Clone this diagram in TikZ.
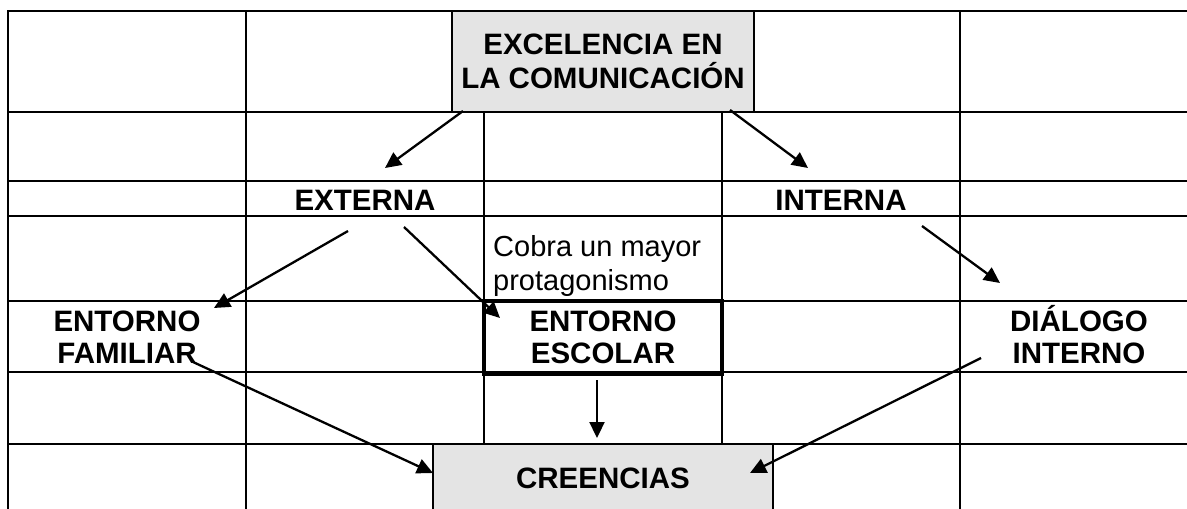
\documentclass[tikz,border=0pt]{standalone}
\usepackage{fontspec}
\setmainfont{Liberation Sans}
\usetikzlibrary{arrows.meta}
\definecolor{boxgray}{RGB}{228,228,228}
\begin{document}
\begin{tikzpicture}[x=1pt,y=-1pt,
  grid/.style={line width=2.8pt, line cap=rect},
  thickbox/.style={line width=3.8pt},
  lbl/.style={font=\fontsize{29.5}{32}\selectfont\bfseries, inner sep=0pt, align=center},
  note/.style={font=\fontsize{29}{34}\selectfont, inner sep=0pt, align=left},
  conn/.style={line width=2.3pt, -{Triangle[length=16pt,width=15pt]}}
]
\useasboundingbox (0,0) rectangle (1187,509);
% shaded cells
\fill[boxgray] (452,11) rectangle (754,112);
\fill[boxgray] (433,444) rectangle (773,509);
% horizontal rules
\foreach \yy in {11,112,181,216,301,372,444}
  \draw[grid] (8,\yy) -- (1190,\yy);
% vertical rules
\draw[grid] (8,11) -- (8,512);
\draw[grid] (246,11) -- (246,512);
\draw[grid] (960,11) -- (960,512);
\draw[grid] (452,11) -- (452,112);
\draw[grid] (754,11) -- (754,112);
\draw[grid] (484,112) -- (484,444);
\draw[grid] (722,112) -- (722,444);
\draw[grid] (433,444) -- (433,512);
\draw[grid] (773,444) -- (773,512);
% framed cell
\draw[thickbox] (484,301) rectangle (722,374);
% texts
\node[lbl, font=\fontsize{29.5}{34}\selectfont\bfseries] (exc) at (603,61.5) {EXCELENCIA EN\\LA COMUNICACIÓN};
\node[lbl, anchor=base] (ext) at (365,210) {EXTERNA};
\node[lbl, anchor=base] (int) at (841,210) {INTERNA};
\node[note, anchor=west] (cobra) at (493,265.5) {Cobra un mayor\\protagonismo};
\node[lbl] (fam) at (127,337.5) {ENTORNO\\FAMILIAR};
\node[lbl] (esc) at (603,337.5) {ENTORNO\\ESCOLAR};
\node[lbl] (dia) at (1079,334.5) {DIÁLOGO\\INTERNO};
\node[lbl, anchor=base] (cre) at (603,488) {CREENCIAS};
% connector ends
\coordinate (a1s) at (463,111); \coordinate (a1e) at (385,168);
\coordinate (a2s) at (730,110); \coordinate (a2e) at (808,168);
\coordinate (a3s) at (348,231); \coordinate (a3e) at (214,308);
\coordinate (a4s) at (404,227); \coordinate (a4e) at (500,318);
\coordinate (a5s) at (922,226); \coordinate (a5e) at (1000,283);
\coordinate (a6s) at (193,362); \coordinate (a6e) at (433,473);
\coordinate (a7s) at (597,380); \coordinate (a7e) at (597,438);
\coordinate (a8s) at (981,358); \coordinate (a8e) at (750,473);
% connectors
\draw[conn] (a1s) -- (a1e);
\draw[conn] (a2s) -- (a2e);
\draw[conn] (a3s) -- (a3e);
\draw[conn] (a4s) -- (a4e);
\draw[conn] (a5s) -- (a5e);
\draw[conn] (a6s) -- (a6e);
\draw[conn] (a7s) -- (a7e);
\draw[conn] (a8s) -- (a8e);
\end{tikzpicture}
\end{document}
